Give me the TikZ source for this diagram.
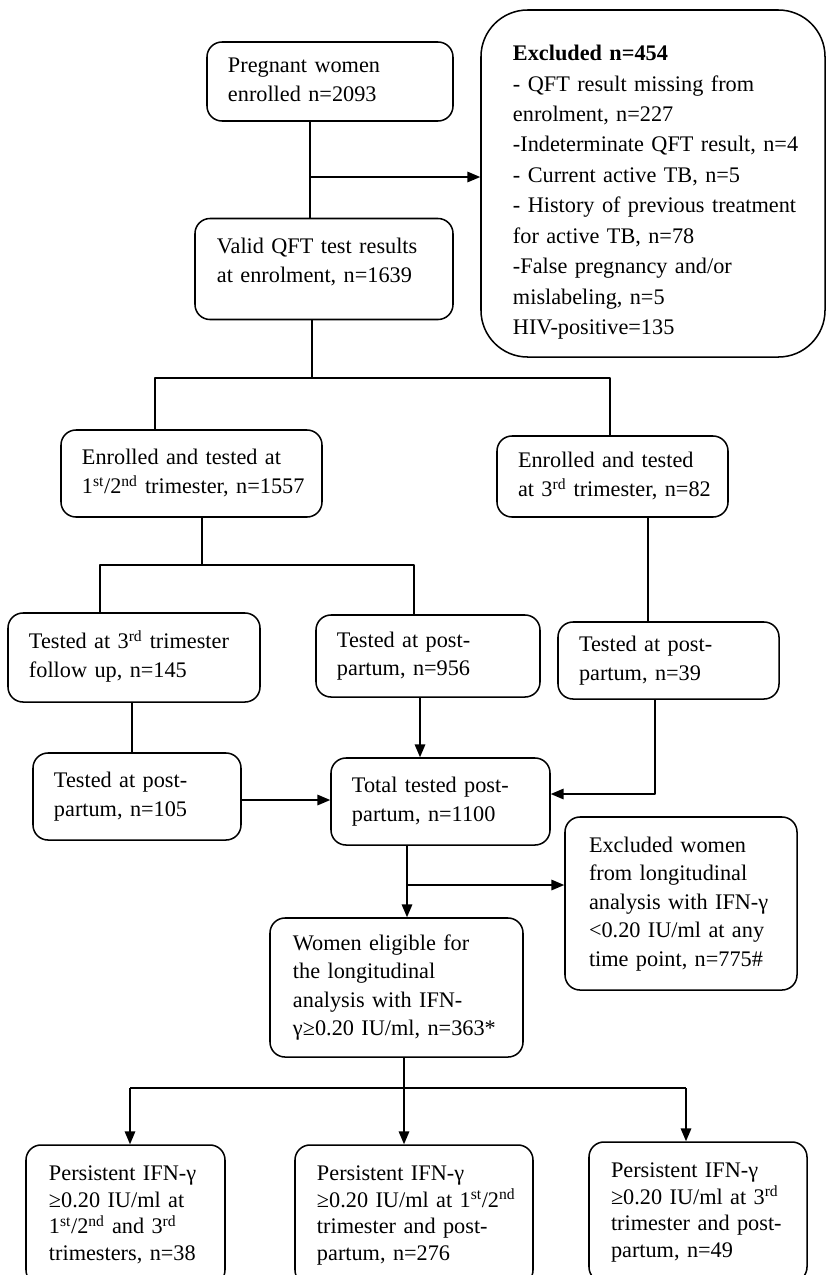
\documentclass[tikz,border=0pt]{standalone}
\usepackage{fontspec}
\setmainfont{Liberation Serif}
\usetikzlibrary{arrows.meta}
\tikzset{
  box/.style={draw, rounded corners=0.45cm, align=left, inner xsep=0.63cm, inner ysep=0pt},
}
\newcommand{\ordsup}[1]{\textsuperscript{#1}}
\newcommand{\boxlines}[1]{\begin{tabular}{@{}l@{}}#1\end{tabular}}

\begin{document}
\begin{tikzpicture}[x=0.03cm, y=-0.03cm, line width=1.3pt, line join=round, >={Triangle[length=11pt,width=9pt]}, font=\fontsize{19}{24.3}\selectfont]
\clip (0,0) rectangle (827,1275);
% top part
\node[box, minimum width=7.38cm, minimum height=2.37cm, text width=6.12cm] (preg) at (330,81.5) {\boxlines{Pregnant women\\enrolled n=2093}};
\node[box, inner xsep=0.66cm, minimum width=7.74cm, minimum height=3.03cm, text width=6.42cm] (valid) at (324,269) {\boxlines{Valid QFT test results\\at enrolment, n=1639\rule[-19pt]{0pt}{0pt}}};
\node[box, rounded corners=1.4cm, inner xsep=0.96cm, minimum width=10.32cm, minimum height=10.41cm, text width=8.4cm, font=\fontsize{19}{26}\selectfont] (excl) at (653,183.5) {\boxlines{\rule{0pt}{32pt}\textbf{Excluded n=454}\\- QFT result missing from\\enrolment, n=227\\-Indeterminate QFT result, n=4\\- Current active TB, n=5\\- History of previous treatment\\for active TB, n=78\\-False pregnancy and/or\\mislabeling, n=5\\HIV-positive=135}};
% trimester split
\node[box, minimum width=7.83cm, minimum height=2.61cm, text width=6.57cm] (enr12) at (191.5,473.5) {\boxlines{Enrolled and tested at\\1\ordsup{st}/2\ordsup{nd} trimester, n=1557}};
\node[box, minimum width=6.93cm, minimum height=2.43cm, text width=5.67cm] (enr3) at (612.5,476.5) {\boxlines{Enrolled and tested\\at 3\ordsup{rd} trimester, n=82}};
\node[box, minimum width=7.56cm, minimum height=2.67cm, text width=6.3cm] (t3rd) at (134,657.5) {\boxlines{Tested at 3\ordsup{rd} trimester\\follow up, n=145}};
\node[box, minimum width=6.72cm, minimum height=2.46cm, text width=5.46cm] (t956) at (428,656) {\boxlines{Tested at post-\\partum, n=956}};
\node[box, minimum width=6.63cm, minimum height=2.31cm, text width=5.37cm] (t39) at (668.5,660.5) {\boxlines{Tested at post-\\partum, n=39}};
\node[box, minimum width=6.24cm, minimum height=2.61cm, text width=4.98cm] (t105) at (137,796.5) {\boxlines{Tested at post-\\partum, n=105}};
\node[box, minimum width=6.57cm, minimum height=2.61cm, text width=5.31cm] (total) at (440.5,801.5) {\boxlines{Total tested post-\\partum, n=1100}};
% longitudinal
\node[box, inner xsep=0.72cm, minimum width=6.96cm, minimum height=5.19cm, text width=5.52cm] (exclw) at (681,903.5) {\boxlines{Excluded women\\from longitudinal\\analysis with IFN-γ\\<0.20 IU/ml at any\\time point, n=775\#}};
\node[box, inner xsep=0.69cm, minimum width=7.59cm, minimum height=4.17cm, text width=6.21cm] (elig) at (396.5,987.5) {\boxlines{Women eligible for\\the longitudinal\\analysis with IFN-\\γ≥0.20 IU/ml, n=363*}};
\node[box, inner xsep=0.69cm, minimum width=5.97cm, minimum height=4.2cm, text width=4.59cm, font=\fontsize{19}{22.8}\selectfont] (pers1) at (125.5,1215) {\boxlines{Persistent IFN-γ\\≥0.20 IU/ml at\\1\ordsup{st}/2\ordsup{nd} and 3\ordsup{rd}\\trimesters, n=38}};
\node[box, inner xsep=0.66cm, minimum width=7.14cm, minimum height=4.2cm, text width=5.82cm, font=\fontsize{19}{22.8}\selectfont] (pers2) at (414,1215) {\boxlines{Persistent IFN-γ\\≥0.20 IU/ml at 1\ordsup{st}/2\ordsup{nd}\\trimester and post-\\partum, n=276}};
\node[box, inner xsep=0.66cm, minimum width=6.54cm, minimum height=4.2cm, text width=5.22cm, font=\fontsize{19}{22.8}\selectfont] (pers3) at (698,1212) {\boxlines{Persistent IFN-γ\\≥0.20 IU/ml at 3\ordsup{rd}\\trimester and post-\\partum, n=49}};
% junctions
\coordinate (j1) at (310,177);
\coordinate (j2) at (312,378);
\coordinate (j2l) at (155,378);
\coordinate (j2r) at (610,378);
\coordinate (j3) at (202,565);
\coordinate (j3l) at (100,565);
\coordinate (j3r) at (414,565);
\coordinate (j4) at (648,570);
\coordinate (j5) at (132,730);
\coordinate (j6) at (420,730);
\coordinate (j7) at (655,794);
\coordinate (j8) at (286,800);
\coordinate (j9) at (407,885);
\coordinate (j10) at (404,1088);
\coordinate (j10l) at (130,1088);
\coordinate (j10r) at (686,1088);
% connectors
\draw (preg.south -| j1) -- (valid.north -| j1);
\draw[->] (j1) -- (j1 -| excl.west);
\draw (valid.south -| j2) -- (j2);
\draw (enr12.north -| j2l) |- (j2r) -- (enr3.north -| j2r);
\draw (enr12.south -| j3) -- (j3);
\draw (t3rd.north -| j3l) |- (j3r) -- (t956.north -| j3r);
\draw (enr3.south -| j4) -- (t39.north -| j4);
\draw (t3rd.south -| j5) -- (t105.north -| j5);
\draw[->] (t956.south -| j6) -- (total.north -| j6);
\draw[->] (t39.south -| j7) |- (total.east |- j7);
\draw[->] (t105.east |- j8) -- (total.west |- j8);
\draw[->] (total.south -| j9) -- (elig.north -| j9);
\draw[->] (j9) -- (exclw.west |- j9);
\draw (elig.south -| j10) -- (j10);
\draw (j10l) -- (j10r);
\draw[->] (j10l) -- (pers1.north -| j10l);
\draw[->] (j10) -- (pers2.north -| j10);
\draw[->] (j10r) -- (pers3.north -| j10r);
\end{tikzpicture}
\end{document}
